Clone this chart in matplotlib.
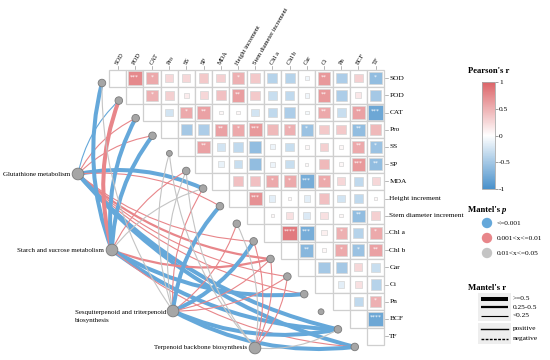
import numpy as np
import matplotlib
matplotlib.use("Agg")
import matplotlib.pyplot as plt
from matplotlib.colors import LinearSegmentedColormap, Normalize
from matplotlib.patches import Rectangle, Circle, PathPatch
from matplotlib.path import Path
from matplotlib.cm import ScalarMappable

plt.rcParams['font.family'] = ['Liberation Serif', 'DejaVu Serif']

# ---------------- data ----------------
variables = ["SOD", "POD", "CAT", "Pro", "SS", "SP", "MDA", "Height increment",
             "Stem diameter increment", "Chl a", "Chl b", "Car", "Ci", "Pn", "BCF", "TF"]

# upper-triangle Pearson r (row i, columns i+1..15)
r_rows = [
    [0.75, 0.55, 0.25, 0.25, 0.35, 0.3, 0.5, 0.35, -0.4, -0.4, -0.08, 0.65, -0.45, 0.3, -0.6],
    [0.5, 0.3, 0.12, 0.25, 0.4, 0.62, 0.35, -0.3, -0.35, -0.08, 0.65, -0.45, 0.15, -0.5],
    [-0.25, 0.55, 0.6, 0.05, 0.05, -0.25, -0.35, -0.45, -0.06, 0.55, -0.3, 0.6, -0.8],
    [-0.5, -0.45, 0.6, 0.55, 0.65, 0.45, 0.5, -0.55, 0.35, 0.35, -0.6, 0.45],
    [0.6, -0.25, -0.35, -0.6, -0.1, -0.3, 0.05, 0.3, 0.05, 0.55, -0.55],
    [-0.12, -0.3, -0.6, -0.1, -0.3, 0.04, 0.45, 0.05, 0.65, -0.6],
    [0.4, 0.4, 0.55, 0.55, -0.75, 0.55, 0.25, -0.35, 0.25],
    [0.7, -0.15, 0.05, -0.15, 0.4, -0.25, -0.35, 0.05],
    [0.05, 0.2, -0.2, 0.2, 0.05, -0.6, 0.3],
    [0.85, -0.75, 0.1, 0.5, -0.4, 0.55],
    [-0.65, 0.05, 0.55, -0.55, 0.6],
    [-0.5, -0.5, 0.25, -0.3],
    [-0.15, 0.2, -0.4],
    [-0.35, 0.5],
    [-0.8],
]
# number of significance stars per cell
star_rows = [
    [3, 1, 0, 0, 0, 0, 1, 0, 0, 0, 0, 2, 0, 0, 1],
    [1, 0, 0, 0, 0, 2, 0, 0, 0, 0, 2, 0, 0, 0],
    [0, 1, 2, 0, 0, 0, 0, 0, 0, 2, 0, 2, 3],
    [0, 0, 2, 1, 3, 0, 1, 1, 0, 0, 2, 0],
    [2, 0, 0, 0, 0, 0, 0, 0, 0, 2, 1],
    [0, 0, 0, 0, 0, 0, 0, 0, 3, 2],
    [0, 0, 1, 1, 3, 1, 0, 0, 0],
    [3, 0, 0, 0, 0, 0, 0, 0],
    [0, 0, 0, 0, 0, 2, 0],
    [4, 3, 0, 1, 0, 1],
    [2, 0, 1, 1, 2],
    [0, 0, 0, 0],
    [0, 0, 0],
    [0, 1],
    [4],
]

pathways = ["Glutathione metabolism", "Starch and sucrose metabolism",
            "Sesquiterpenoid and triterpenoid\nbiosynthesis", "Terpenoid backbone biosynthesis"]

# Mantel links: pathway index, variable name, Mantel r, Mantel p class
link_path = [0, 0, 0, 0, 0, 0, 0, 0, 0, 0, 0,
             1, 1, 1, 1, 1, 1, 1, 1, 1, 1,
             2, 2, 2, 2, 2, 2, 2, 2, 2, 2, 2,
             3, 3, 3, 3, 3, 3, 3]
link_var = ["POD", "CAT", "Pro", "MDA", "Height increment", "Chl a", "Chl b", "Car", "Ci", "BCF", "TF",
            "SOD", "POD", "CAT", "Pro", "SP", "MDA", "Chl b", "Ci", "BCF", "TF",
            "SOD", "SS", "SP", "MDA", "Height increment", "Stem diameter increment", "Chl a", "Chl b", "Car", "BCF", "TF",
            "SS", "SP", "Stem diameter increment", "Chl a", "Car", "Chl b", "BCF"]
link_r = [0.2, 0.2, 0.2, 0.55, 0.2, 0.2, 0.35, 0.2, 0.2, 0.55, 0.55,
          0.55, 0.5, 0.55, 0.55, 0.2, 0.2, 0.35, 0.55, 0.55, 0.2,
          0.2, 0.2, 0.2, 0.2, 0.55, 0.2, 0.55, 0.2, 0.2, 0.55, 0.55,
          0.2, 0.2, 0.2, 0.2, 0.2, 0.2, 0.2]
link_p = ["a", "b", "b", "a", "b", "b", "b", "b", "b", "a", "a",
          "a", "b", "a", "a", "b", "c", "b", "a", "a", "b",
          "c", "c", "c", "b", "a", "b", "a", "b", "b", "a", "a",
          "c", "c", "c", "b", "b", "b", "c"]
p_labels = ["<=0.001", "0.001<x<=0.01", "0.01<x<=0.05"]
r_labels = [">=0.5", "0.25-0.5", "<0.25"]

# ---------------- styling ----------------
cmap = LinearSegmentedColormap.from_list("pr", ["#4A91CB", "#FFFFFF", "#DC6367"])
norm = Normalize(-1, 1)
p_colors = {"a": "#65A8DA", "b": "#E8868A", "c": "#C4C4C4"}
grid_col = "#CFCFCF"
CELL = 17.2
X0, Y0 = 109.0, 69.5


def P(x, y):
    return ((x - X0) / CELL, (y - Y0) / CELL)


def lw_of(r):
    return 2.9 if r >= 0.5 else (1.6 if r >= 0.25 else 0.8)


fig = plt.figure(figsize=(5.5, 3.6), dpi=100)
ax = fig.add_axes([0, 0, 1, 1])
ax.set_xlim(-X0 / CELL, (550 - X0) / CELL)
ax.set_ylim((360 - Y0) / CELL, -Y0 / CELL)
ax.axis("off")

n = len(variables)
FS = 5.3

# node positions
var_xy = [(-0.41 + 0.98 * i, 0.785 + 1.023 * i) for i in range(n)]
path_xy = [P(78, 174), P(112, 250), P(173, 311), P(255, 348)]

# ---------------- links ----------------
for pi, vn, rv, pv in zip(link_path, link_var, link_r, link_p):
    vi = variables.index(vn)
    x0, y0 = path_xy[pi]
    x1, y1 = var_xy[vi]
    dx, dy = x1 - x0, y1 - y0
    k = 0.16 if vi < 8 else -0.16
    cx, cy = (x0 + x1) / 2 + k * dy, (y0 + y1) / 2 - k * dx
    path = Path([(x0, y0), (cx, cy), (x1, y1)], [Path.MOVETO, Path.CURVE3, Path.CURVE3])
    ax.add_patch(PathPatch(path, fc="none", ec=p_colors[pv], lw=lw_of(rv),
                           capstyle="round", zorder=2))

# ---------------- heatmap ----------------
for i in range(n):
    ax.add_patch(Rectangle((i, i), 1, 1, fc="white", ec=grid_col, lw=0.9, zorder=3))
    if i == n - 1:
        continue
    for k, (rv, st) in enumerate(zip(r_rows[i], star_rows[i])):
        j = i + 1 + k
        ax.add_patch(Rectangle((j, i), 1, 1, fc="white", ec=grid_col, lw=0.9, zorder=3))
        s = 0.93 * np.sqrt(abs(rv))
        ax.add_patch(Rectangle((j + 0.5 - s / 2, i + 0.5 - s / 2), s, s,
                               fc=cmap(norm(rv)), ec="#D6D6D6", lw=0.5, zorder=4))
        if st:
            ax.text(j + 0.5, i + 0.42, "*" * st, color="white", fontsize=4.2,
                    ha="center", va="center", zorder=5, family="DejaVu Sans")

# variable nodes
for i, (x, y) in enumerate(var_xy):
    rad = 0.17 if variables[i] in ("SS", "Pn") else 0.22
    ax.add_patch(Circle((x, y), rad, fc="#A6A6A6", ec="#7A7A7A", lw=0.6, zorder=6))

# pathway nodes
for (x, y) in path_xy:
    ax.add_patch(Circle((x, y), 0.34, fc="#A6A6A6", ec="#7A7A7A", lw=0.6, zorder=6))

# pathway labels
PFS = 5.0
ax.text(*P(70, 174), pathways[0], ha="right", va="center", fontsize=PFS)
ax.text(*P(104, 250), pathways[1], ha="right", va="center", fontsize=PFS)
ax.text(*P(75, 316), pathways[2], ha="left", va="center", fontsize=PFS, linespacing=1.75)
ax.text(*P(247, 348), pathways[3], ha="right", va="center", fontsize=PFS)

# column labels
for j, v in enumerate(variables):
    ax.plot([j + 0.5, j + 0.5], [-0.05, -0.2], color="#999999", lw=0.5)
    ax.text(j + 0.45, -0.3, v, rotation=60, rotation_mode="anchor", ha="left", va="center",
            fontsize=4.6)
# row labels
for i, v in enumerate(variables):
    ax.plot([n + 0.02, n + 0.2], [i + 0.5, i + 0.5], color="#999999", lw=0.5)
    ax.text(n + 0.3, i + 0.5, v, ha="left", va="center", fontsize=FS)

# ---------------- colorbar ----------------
cax = fig.add_axes([482 / 550, 1 - 189 / 360, 13 / 550, 107 / 360])
cb = fig.colorbar(ScalarMappable(norm=norm, cmap=cmap), cax=cax)
cb.set_ticks([-1, -0.5, 0, 0.5, 1])
cb.set_ticklabels(["-1", "-0.5", "0", "0.5", "1"])
cb.outline.set_edgecolor("#AAAAAA")
cb.outline.set_linewidth(0.6)
cax.tick_params(labelsize=FS, length=2, width=0.5, color="#777777", pad=1)
fig.text(468 / 550, 1 - 71 / 360, "Pearson's r", fontsize=6.2, fontweight="bold",
         ha="left", va="center")

# ---------------- Mantel's p legend ----------------
ax.text(*P(468, 210), "Mantel's ", fontsize=6.2, fontweight="bold", ha="left", va="center")
ax.text(*P(502, 210), "p", fontsize=6.2, fontweight="bold", fontstyle="italic", ha="left", va="center")
for k, (lab, key) in enumerate(zip(p_labels, ["a", "b", "c"])):
    yy = 223 + 15 * k
    ax.add_patch(Circle(P(487, yy), 5.2 / CELL, fc=p_colors[key], ec="none", zorder=6))
    ax.text(*P(497, yy), lab, fontsize=FS, ha="left", va="center")

# ---------------- Mantel's r legend ----------------
ax.text(*P(468, 288), "Mantel's r", fontsize=6.2, fontweight="bold", ha="left", va="center")
bx0, by0 = P(478, 293)
bx1, by1 = P(511, 321)
ax.add_patch(Rectangle((bx0, by0), bx1 - bx0, by1 - by0, fc="#EEEEEE", ec="none"))
for k, (lab, rv) in enumerate(zip(r_labels, [0.6, 0.4, 0.1])):
    yy = 298.5 + 8.5 * k
    xa, ya = P(481, yy)
    xb, _ = P(508, yy)
    ax.plot([xa, xb], [ya, ya], color="black", lw=lw_of(rv), solid_capstyle="butt")
    ax.text(*P(513, yy), lab, fontsize=FS, ha="left", va="center")
bx0, by0 = P(478, 323)
bx1, by1 = P(511, 344)
ax.add_patch(Rectangle((bx0, by0), bx1 - bx0, by1 - by0, fc="#EEEEEE", ec="none"))
for k, (lab, ls) in enumerate(zip(["positive", "negative"], ["-", "--"])):
    yy = 328.5 + 10 * k
    xa, ya = P(481, yy)
    xb, _ = P(508, yy)
    if ls == "--":
        ax.plot([xa, xb], [ya, ya], color="black", lw=1.0, ls=(0, (2, 1)))
    else:
        ax.plot([xa, xb], [ya, ya], color="black", lw=1.0)
    ax.text(*P(513, yy), lab, fontsize=FS, ha="left", va="center")

fig.savefig("out.png", dpi=100, facecolor="white")
